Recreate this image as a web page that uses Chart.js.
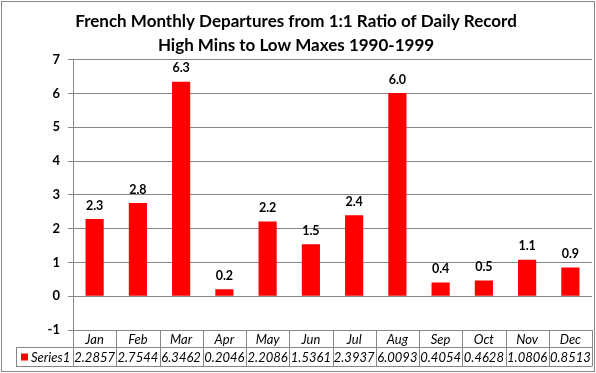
<!DOCTYPE html>
<html>
<head>
<meta charset="utf-8">
<script src="https://cdn.jsdelivr.net/npm/chart.js@4"></script>
<style>
  html, body { margin: 0; padding: 0; background: #fff; }
  canvas { display: block; }
</style>
</head>
<body>
<canvas id="myChart" width="596" height="373"></canvas>
<script>
// donnees
const months = ['Jan', 'Feb', 'Mar', 'Apr', 'May', 'Jun', 'Jul', 'Aug', 'Sep', 'Oct', 'Nov', 'Dec'];
const series1 = [2.2857, 2.7544, 6.3462, 0.2046, 2.2086, 1.5361, 2.3937, 6.0093, 0.4054, 0.4628, 1.0806, 0.8513];
const seriesName = 'Series1';
const titleLines = ['French Monthly Departures from 1:1 Ratio of Daily Record', 'High Mins to Low Maxes 1990-1999'];
const yTicks = [-1, 0, 1, 2, 3, 4, 5, 6, 7];

const gridColor = '#868686';
const barColor = '#ff0000';
const fontFamily = 'Lato, "Open Sans", sans-serif';

// etiquettes au-dessus des barres
const barLabels = {
    id: 'barLabels',
    afterDatasetsDraw(chart) {
        const ctx = chart.ctx;
        const meta = chart.getDatasetMeta(0);
        ctx.save();
        ctx.font = 'bold 12.5px ' + fontFamily;
        ctx.fillStyle = '#000';
        ctx.textAlign = 'center';
        ctx.textBaseline = 'bottom';
        meta.data.forEach((bar, i) => {
            ctx.fillText(series1[i].toFixed(1), bar.x, bar.y - 7);
        });
        ctx.restore();
    }
};

// tableau de donnees sous le graphique (style Excel)
const dataTable = {
    id: 'dataTable',
    afterDraw(chart) {
        const ctx = chart.ctx;
        const area = chart.chartArea;
        const x = chart.scales.x;
        const colW = (area.right - area.left) / months.length;
        const top = area.bottom;
        const mid = top + 17;
        const bottom = mid + 19;
        const legendLeft = 16;

        ctx.save();
        ctx.strokeStyle = gridColor;
        ctx.lineWidth = 1;
        ctx.beginPath();
        // lignes horizontales
        ctx.moveTo(legendLeft, mid + 0.5);
        ctx.lineTo(area.right, mid + 0.5);
        ctx.moveTo(legendLeft, bottom + 0.5);
        ctx.lineTo(area.right, bottom + 0.5);
        // lignes verticales
        for (let i = 0; i <= months.length; i++) {
            const px = Math.round(area.left + i * colW) + 0.5;
            ctx.moveTo(px, top);
            ctx.lineTo(px, bottom + 0.5);
        }
        ctx.moveTo(legendLeft + 0.5, mid);
        ctx.lineTo(legendLeft + 0.5, bottom + 0.5);
        ctx.stroke();

        ctx.fillStyle = '#000';
        ctx.font = 'italic 13px ' + fontFamily;
        ctx.textAlign = 'center';
        ctx.textBaseline = 'middle';
        months.forEach((m, i) => {
            const cx = x.getPixelForValue(i);
            ctx.fillText(m, cx, (top + mid) / 2 + 1);
            ctx.fillText(series1[i].toFixed(4), cx, (mid + bottom) / 2 + 1);
        });

        // legende dans la premiere cellule
        ctx.fillStyle = barColor;
        ctx.fillRect(21, (mid + bottom) / 2 - 3, 7, 7);
        ctx.fillStyle = '#000';
        ctx.textAlign = 'left';
        ctx.fillText(seriesName, 31, (mid + bottom) / 2 + 1);

        // bordure du graphique
        ctx.strokeStyle = gridColor;
        ctx.strokeRect(1.5, 1.5, chart.width - 3, chart.height - 3);
        ctx.restore();
    }
};

const ctx = document.getElementById('myChart').getContext('2d');
new Chart(ctx, {
    type: 'bar',
    data: {
        labels: months,
        datasets: [{
            label: seriesName,
            data: series1,
            backgroundColor: barColor,
            borderWidth: 0,
            categoryPercentage: 1,
            barPercentage: 0.42
        }]
    },
    options: {
        responsive: false,
        animation: false,
        layout: { padding: { left: 0, right: 4, bottom: 43, top: 0 } },
        scales: {
            x: { display: false },
            y: {
                min: -1,
                max: 7,
                afterBuildTicks(scale) {
                    scale.ticks = yTicks.map(v => ({ value: v }));
                },
                afterFit(scale) { scale.width = 73; },
                grid: { color: gridColor, tickLength: 5, drawTicks: true },
                border: { color: gridColor },
                ticks: {
                    color: '#000',
                    padding: 8,
                    font: { family: fontFamily, size: 13, weight: 'bold' }
                }
            }
        },
        plugins: {
            legend: { display: false },
            tooltip: { enabled: false },
            title: {
                display: true,
                text: titleLines,
                color: '#000',
                font: { family: fontFamily, size: 17, weight: 'bold', lineHeight: 1.4 },
                padding: { top: 10, bottom: 2 }
            }
        }
    },
    plugins: [barLabels, dataTable]
});
</script>
</body>
</html>
